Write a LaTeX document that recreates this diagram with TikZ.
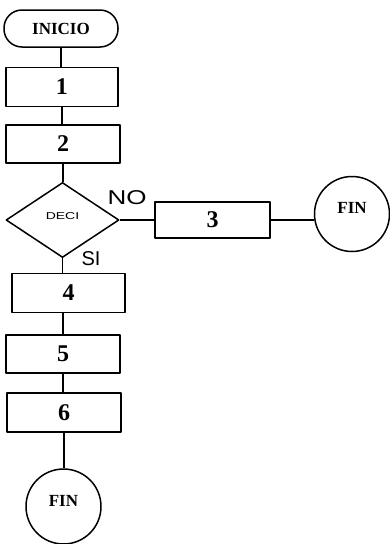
\documentclass[tikz,border=0pt]{standalone}
\usepackage{fontspec}
\setmainfont{Liberation Serif}
\newfontfamily\rotulo{Liberation Sans}
\usetikzlibrary{shapes.geometric}

\begin{document}
\begin{tikzpicture}[x=1pt, y=-1pt, line width=1.5pt, line join=round,
    caja/.style={draw, rectangle, minimum width=#1, minimum height=39pt, inner sep=0pt, font=\bfseries\fontsize{24}{24}\selectfont},
    terminal/.style={draw, rectangle, rounded corners=18pt, minimum width=114pt, minimum height=37pt, inner sep=0pt, font=\bfseries\fontsize{17}{17}\selectfont},
    decision/.style={draw, diamond, aspect=1.5, minimum width=113pt, minimum height=75pt, inner sep=0pt, font=\rotulo\fontsize{10}{10}\selectfont},
    fin/.style={draw, circle, minimum size=75pt, inner sep=0pt, font=\bfseries\fontsize{17}{17}\selectfont},
    etiq/.style={inner sep=0pt, font=\rotulo\fontsize{20}{20}\selectfont}]
    \useasboundingbox (0,0) rectangle (390,544);
    % columna principal
    \node[terminal] (inicio) at (61,28.5) {INICIO};
    \node[caja=112pt] (b1) at (62,87) {1};
    \node[caja=114pt, minimum height=38pt] (b2) at (63,144) {2};
    \node[decision] (deci) at (62.5,220) {\raisebox{4pt}[\height][\depth]{\scalebox{1.4}[1]{DECI}}};
    \node[caja=113pt] (b4) at (68.5,293) {4};
    \node[caja=114pt, minimum height=38pt] (b5) at (63,354) {5};
    \node[caja=114pt] (b6) at (64,412.5) {6};
    \node[fin] (finB) at (63.5,506.5) {\raisebox{6pt}[\height][\depth]{FIN}};
    % rama del NO
    \node[caja=115pt, minimum height=36pt] (b3) at (212.5,220) {3};
    \node[fin] (finA) at (352,214) {\raisebox{6pt}[\height][\depth]{FIN}};
    \node[etiq] (no) at (127,198) {\scalebox{1.3}[1]{NO}};
    \node[etiq] (si) at (91,259) {SI};
    % conexiones
    \draw (inicio.south) -- (inicio.south |- b1.north);
    \draw (b1.south) -- (b1.south |- b2.north);
    \draw (b2.south) -- (b2.south |- deci.north);
    \draw (deci.east) -- (b3.west);
    \draw (b3.east) -- (b3.east -| finA.west);
    \draw (deci.south) -- (deci.south |- b4.north);
    \draw (b5.north) -- (b5.north |- b4.south);
    \draw (b5.south) -- (b5.south |- b6.north);
    \draw (b6.south) -- (b6.south |- finB.north);
\end{tikzpicture}
\end{document}
